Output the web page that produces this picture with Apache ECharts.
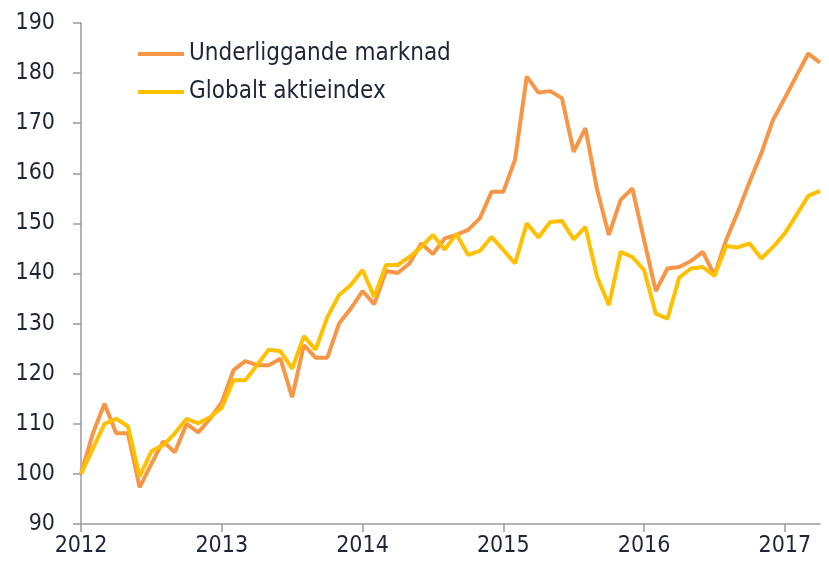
<!DOCTYPE html>
<html>
<head>
<meta charset="utf-8">
<script src="https://cdn.jsdelivr.net/npm/echarts@6/dist/echarts.min.js"></script>
<style>
    html, body { margin: 0; padding: 0; background: #fff; }
    #chart { width: 829px; height: 567px; }
</style>
</head>
<body>
<div id="chart"></div>
<script>
// monthly points, Jan 2012 - Apr 2017
const months = [];
for (let y = 2012; y <= 2017; y++) {
    for (let m = 1; m <= 12; m++) {
        if (y === 2017 && m > 4) break;
        months.push(y + '-' + (m < 10 ? '0' + m : m));
    }
}

const underliggande = [
    100, 108, 114, 108.1, 108.1, 97.3, 102, 106.5, 104.3, 110, 108.3, 111,
    114.3, 120.7, 122.5, 121.7, 121.7, 123, 115.3, 125.7, 123.2, 123.2, 130, 133,
    136.5, 133.9, 140.5, 140.1, 142, 146, 143.9, 147, 147.7, 148.7, 151, 156.3,
    156.3, 162.7, 179.3, 176.1, 176.4, 175, 164.3, 169, 156.7, 147.7, 154.7, 157,
    146.7, 136.5, 141, 141.3, 142.5, 144.3, 139.7, 146.7, 152.3, 158.3, 164, 170.7,
    175, 179.5, 183.9, 182.1
];

const globalt = [
    100, 105, 110, 111, 109.5, 99.5, 104.5, 105.7, 108.1, 111, 110.1, 111.3,
    113.2, 118.7, 118.7, 121.7, 124.8, 124.5, 121, 127.5, 124.8, 131.3, 135.7, 137.7,
    140.7, 135.3, 141.7, 141.7, 143.3, 145.3, 147.7, 144.8, 147.9, 143.7, 144.5, 147.3,
    144.7, 142, 150, 147.2, 150.3, 150.5, 146.8, 149.3, 139.3, 133.7, 144.3, 143.3,
    140.7, 132, 131, 139.2, 141, 141.3, 139.5, 145.5, 145.2, 146, 143, 145.3,
    148, 151.7, 155.5, 156.5
];

let chart = echarts.init(document.getElementById('chart'));

const axisColor = '#9a9a9a';
const textColor = '#1e2536';
const fontFamily = 'DejaVu Sans Condensed, DejaVu Sans, sans-serif';

let option = {
    backgroundColor: '#ffffff',
    animation: false,
    grid: {
        left: 81,
        right: 9,
        top: 23,
        bottom: 43
    },
    legend: {
        orient: 'vertical',
        left: 133,
        top: 37,
        itemWidth: 46,
        itemHeight: 4,
        itemGap: 14,
        icon: 'rect',
        data: ['Underliggande marknad', 'Globalt aktieindex'],
        textStyle: {
            color: textColor,
            fontSize: 24,
            fontFamily: fontFamily
        }
    },
    xAxis: {
        type: 'category',
        boundaryGap: false,
        data: months,
        axisLine: { lineStyle: { color: axisColor, width: 1.5 } },
        axisTick: {
            interval: 11,
            length: 8,
            lineStyle: { color: axisColor, width: 1.5 }
        },
        axisLabel: {
            interval: 11,
            color: textColor,
            fontSize: 23,
            fontFamily: fontFamily,
            margin: 11,
            formatter: function (v) {
                return v.slice(0, 4);
            }
        },
        splitLine: { show: false }
    },
    yAxis: {
        type: 'value',
        min: 90,
        max: 190,
        interval: 10,
        axisLine: { show: true, lineStyle: { color: axisColor, width: 1.5 } },
        axisTick: { show: true, length: 8, lineStyle: { color: axisColor, width: 1.5 } },
        axisLabel: {
            color: textColor,
            fontSize: 23,
            fontFamily: fontFamily,
            margin: 26
        },
        splitLine: { show: false }
    },
    series: [
        {
            name: 'Underliggande marknad',
            type: 'line',
            data: underliggande,
            showSymbol: false,
            symbol: 'none',
            lineStyle: { color: '#f79646', width: 4 },
            itemStyle: { color: '#f79646' },
            z: 2
        },
        {
            name: 'Globalt aktieindex',
            type: 'line',
            data: globalt,
            showSymbol: false,
            symbol: 'none',
            lineStyle: { color: '#ffc000', width: 4 },
            itemStyle: { color: '#ffc000' },
            z: 3
        }
    ]
};

chart.setOption(option);
</script>
</body>
</html>
